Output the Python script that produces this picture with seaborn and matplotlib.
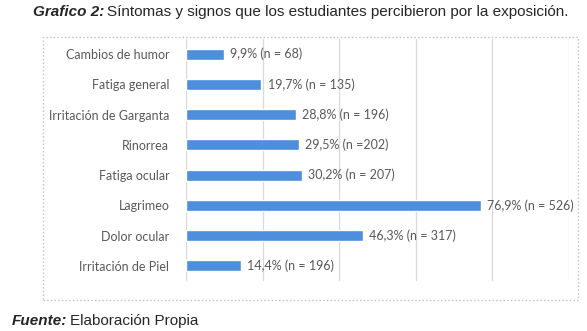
import matplotlib
matplotlib.use('Agg')
import matplotlib.pyplot as plt
import matplotlib.patches as patches
import seaborn as sns
import pandas as pd

sintomas = ['Cambios de humor', 'Fatiga general', 'Irritación de Garganta', 'Rinorrea',
            'Fatiga ocular', 'Lagrimeo', 'Dolor ocular', 'Irritación de Piel']
porcentaje = [9.9, 19.7, 28.8, 29.5, 30.2, 76.9, 46.3, 14.4]
n_casos = ['68', '135', '196', '202', '207', '526', '317', '196']
sep_n = [' = ', ' = ', ' = ', ' =', ' = ', ' = ', ' = ', ' = ']

df = pd.DataFrame({'sintoma': sintomas, 'pct': porcentaje})

sns.set_style('white')
plt.rcParams['font.family'] = ['Lato', 'DejaVu Sans']

fig = plt.figure(figsize=(5.87, 3.31), dpi=100)
ax = fig.add_axes([186 / 587, 1 - 281 / 331, (569 - 186) / 587, (281 - 39) / 331])

sns.barplot(data=df, x='pct', y='sintoma', orient='h', color='#4d8fdc',
            width=0.36, saturation=1, ax=ax)

ax.set_xlim(0, 100)
ax.set_xticks([0, 20, 40, 60, 80, 100])
ax.xaxis.grid(True, color='#d9d9d9', linewidth=0.9)
ax.set_axisbelow(True)
ax.tick_params(axis='x', length=0, labelbottom=False)
ax.tick_params(axis='y', length=0, pad=12, labelsize=9, labelcolor='#595959')
ax.set_xlabel('')
ax.set_ylabel('')
for s in ax.spines.values():
    s.set_visible(False)

for i, (p, n) in enumerate(zip(porcentaje, n_casos)):
    txt = f"{p:.1f}".replace('.', ',') + '% (n' + sep_n[i] + n + ')'
    ax.text(p + 1.6, i, txt, va='center', ha='left', fontsize=9, color='#595959')

# marco exterior del grafico
fig.patches.append(patches.Rectangle((43 / 587, 1 - 300 / 331), (578 - 43) / 587, (300 - 37) / 331,
                                     transform=fig.transFigure, fill=False,
                                     edgecolor='#bfbfbf', linestyle=':', linewidth=1))

# titulo y fuente con parte en negrita cursiva
fig.canvas.draw()
r = fig.canvas.get_renderer()


def texto_mixto(x, y, negrita, resto, size):
    t1 = fig.text(x, y, negrita, fontsize=size, fontweight='bold', fontstyle='italic',
                  family='Liberation Sans', va='center', ha='left')
    bb = t1.get_window_extent(renderer=r)
    x2 = bb.x1 / fig.bbox.width + 3 / 587
    fig.text(x2, y, resto, fontsize=size, family='Liberation Sans', va='center', ha='left')


texto_mixto(33 / 587, 1 - 12 / 331, 'Grafico 2:',
            'Síntomas y signos que los estudiantes percibieron por la exposición.', 11)
texto_mixto(12 / 587, 1 - 321 / 331, 'Fuente:', 'Elaboración Propia', 11)

fig.savefig('out.png', dpi=100)
